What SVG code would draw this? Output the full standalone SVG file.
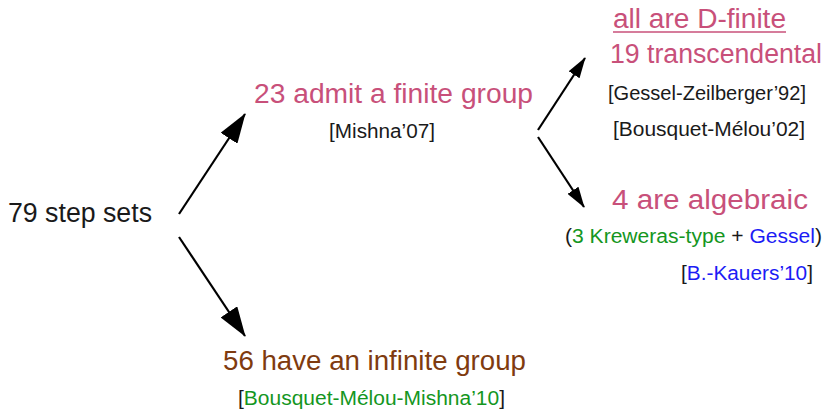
<svg xmlns="http://www.w3.org/2000/svg" width="826" height="410" viewBox="0 0 826 410">
<style>
.main{font-family:"Liberation Sans",Arial,sans-serif;font-size:27px}
.ref{font-family:"Liberation Sans",Arial,sans-serif;font-size:20px;fill:#1a1a1a}
.pink{fill:#c8507a}
.brown{fill:#7f3b0f}
.green{fill:#14961e}
.blue{fill:#1c1cf5}
.blk{fill:#1a1a1a}
.arr{stroke:#000;stroke-width:2.2;fill:none}
</style>
<defs>
<marker id="big" viewBox="0 0 30 20" markerWidth="30" markerHeight="20" refX="29" refY="10" orient="auto" markerUnits="userSpaceOnUse">
<path d="M0,0 L30,10 L0,20 Z" fill="#000"/>
</marker>
<marker id="small" viewBox="0 0 21 13" markerWidth="21" markerHeight="13" refX="20" refY="6.5" orient="auto" markerUnits="userSpaceOnUse">
<path d="M0,0 L21,6.5 L0,13 Z" fill="#000"/>
</marker>
</defs>
<g id="connectors">
<line class="arr" x1="179" y1="214" x2="245" y2="114" marker-end="url(#big)"/>
<line class="arr" x1="179" y1="237" x2="245" y2="336" marker-end="url(#big)"/>
<line class="arr" x1="538" y1="130" x2="585" y2="58" marker-end="url(#small)"/>
<line class="arr" x1="538" y1="137" x2="584" y2="207" marker-end="url(#small)"/>
</g>
<g id="root">
<text class="main blk" x="8" y="222" textLength="144" lengthAdjust="spacingAndGlyphs">79 step sets</text>
</g>
<g id="finite">
<text class="main pink" x="254" y="103" textLength="279" lengthAdjust="spacingAndGlyphs">23 admit a finite group</text>
<text class="ref" x="329" y="138" textLength="106" lengthAdjust="spacingAndGlyphs">[Mishna’07]</text>
</g>
<g id="dfinite">
<text class="main pink" x="613" y="28" textLength="173" lengthAdjust="spacingAndGlyphs">all are D-finite</text>
<line x1="613" y1="32" x2="786" y2="32" stroke="#c8507a" stroke-width="1.5"/>
<text class="main pink" x="610" y="63" textLength="212" lengthAdjust="spacingAndGlyphs">19 transcendental</text>
<text class="ref" x="608" y="100" textLength="198" lengthAdjust="spacingAndGlyphs">[Gessel-Zeilberger’92]</text>
<text class="ref" x="613" y="136" textLength="192" lengthAdjust="spacingAndGlyphs">[Bousquet-Mélou’02]</text>
</g>
<g id="algebraic">
<text class="main pink" x="612" y="209" textLength="196" lengthAdjust="spacingAndGlyphs">4 are algebraic</text>
<text class="ref" x="565" y="243" textLength="257" lengthAdjust="spacingAndGlyphs">(<tspan class="green">3 Kreweras-type</tspan> + <tspan class="blue">Gessel</tspan>)</text>
<text class="ref" x="681" y="280" textLength="132" lengthAdjust="spacingAndGlyphs">[<tspan class="blue">B.-Kauers’10</tspan>]</text>
</g>
<g id="infinite">
<text class="main brown" x="223" y="370" textLength="303" lengthAdjust="spacingAndGlyphs">56 have an infinite group</text>
<text class="ref" x="238" y="405" textLength="267" lengthAdjust="spacingAndGlyphs">[<tspan class="green">Bousquet-Mélou-Mishna’10</tspan>]</text>
</g>
</svg>
